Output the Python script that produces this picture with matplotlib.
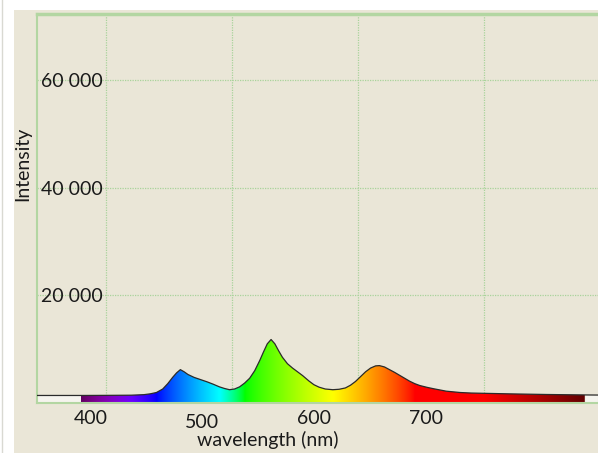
import matplotlib
matplotlib.use("Agg")
import matplotlib.pyplot as plt
import numpy as np
from matplotlib.patches import Polygon, Rectangle
from matplotlib.transforms import ScaledTranslation

plt.rcParams['font.family'] = ['Lato', 'DejaVu Sans']

# spectrum
wavelength = [345, 360, 380, 400, 420, 430, 435, 440, 445, 449, 453, 456, 459, 462,
              465, 470, 475, 480, 485, 490, 494, 498, 502, 506, 510, 514, 518, 522,
              525, 528, 531, 534, 537, 540, 544, 548, 552, 556, 561, 565, 569, 574,
              580, 585, 590, 594, 598, 602, 606, 610, 614, 617, 621, 625, 629, 633,
              637, 641, 645, 649, 655, 660, 670, 681, 690, 700, 720, 750, 780, 790]
intensity = [1400, 1400, 1400, 1420, 1450, 1550, 1700, 1950, 2600, 3600, 4800, 5600,
             6200, 5800, 5300, 4750, 4350, 3950, 3500, 3000, 2700, 2470, 2600, 3000,
             3700, 4600, 6000, 7900, 9500, 11000, 11800, 11000, 9700, 8500, 7300, 6500,
             5800, 5100, 4100, 3400, 2950, 2600, 2470, 2550, 2800, 3300, 4000, 4900,
             5800, 6500, 6900, 6950, 6700, 6200, 5700, 5150, 4600, 4050, 3600, 3250,
             2900, 2650, 2200, 1950, 1850, 1800, 1700, 1580, 1500, 1480]
x_ticks = [400, 500, 600, 700]
y_ticks = [20000, 40000, 60000]
y_tick_labels = ["20 000", "40 000", "60 000"]
visible_range = (380, 780)

BEIGE = "#eae6d7"
GREEN = "#b3d6a2"
GRID = "#a9d39b"
TEXT = "#1a1a1a"


def wavelength_to_rgb(w, gamma=0.8):
    # Dan Bruton's approximation
    if w < 440:
        r, g, b = -(w - 440) / 60.0, 0.0, 1.0
    elif w < 490:
        r, g, b = 0.0, (w - 440) / 50.0, 1.0
    elif w < 510:
        r, g, b = 0.0, 1.0, -(w - 510) / 20.0
    elif w < 580:
        r, g, b = (w - 510) / 70.0, 1.0, 0.0
    elif w < 645:
        r, g, b = 1.0, -(w - 645) / 65.0, 0.0
    else:
        r, g, b = 1.0, 0.0, 0.0
    if w < 420:
        f = 0.3 + 0.7 * (w - 380) / 40.0
    elif w > 700:
        f = 0.3 + 0.7 * (780 - w) / 80.0
    else:
        f = 1.0
    return [(c * f) ** gamma if c > 0 else 0.0 for c in (r, g, b)]


wl = np.array(wavelength, dtype=float)
it = np.array(intensity, dtype=float)

fig = plt.figure(figsize=(5.98, 4.53), dpi=100, facecolor="white")
fig.patches.append(Rectangle((14 / 598, 0), 1, 1 - 10 / 453, transform=fig.transFigure,
                             facecolor=BEIGE, edgecolor="none", zorder=-10))
fig.lines.append(plt.Line2D([1.5 / 598, 1.5 / 598], [0, 1], transform=fig.transFigure,
                            color="#d9d9d2", lw=1, zorder=-10))

ax = fig.add_axes([37 / 598, 1 - 403 / 453, 1 - 37 / 598, (403 - 14) / 453])
ax.set_facecolor(BEIGE)
ax.set_xlim(345.2, 790.5)
ax.set_ylim(0, 72300)

# coloured fill under the curve, clipped to the spectrum shape
lo, hi = visible_range
grad_w = np.linspace(lo, hi, 800)
grad = np.array([[wavelength_to_rgb(w) for w in grad_w]])
im = ax.imshow(grad, extent=[lo, hi, 0, 72300], aspect="auto", zorder=2,
               interpolation="bilinear")
inside = (wl >= lo) & (wl <= hi)
poly_pts = list(zip(wl[inside], it[inside])) + [(hi, 0), (lo, 0)]
clip = Polygon(poly_pts, closed=True, facecolor="none", edgecolor="none",
               transform=ax.transData)
ax.add_patch(clip)
im.set_clip_path(clip)

ax.fill_between(wl, 0, it, where=wl <= lo, color="#f5f4ee", zorder=1.5, lw=0)
ax.fill_between(wl, 0, it, where=wl >= hi, color="#f5f4ee", zorder=1.5, lw=0)
ax.plot(wl, it, color="#2a2a2a", lw=0.9, zorder=3)

# grid and spines
ax.set_xticks(x_ticks)
ax.set_yticks(y_ticks)
ax.grid(True, color=GRID, lw=0.9, linestyle=(0, (1, 1)), zorder=1)
ax.set_axisbelow(True)
ax.tick_params(axis="x", length=0, labelbottom=False)
ax.set_yticklabels(y_tick_labels)
ax.tick_params(axis="y", length=0, pad=-3, labelsize=14, labelcolor=TEXT)
for lab in ax.get_yticklabels():
    lab.set_horizontalalignment("left")
for side in ("left", "bottom"):
    ax.spines[side].set_color(GREEN)
    ax.spines[side].set_linewidth(1.5)
ax.spines["top"].set_color(GREEN)
ax.spines["top"].set_linewidth(2.5)
ax.spines["right"].set_visible(False)

# tick labels sit on a slightly different scale than the grid
sec = ax.secondary_xaxis("bottom", functions=(lambda w: 400 + (w - 387.7) / 0.887,
                                              lambda v: 387.7 + (v - 400) * 0.887))
sec.set_xticks(x_ticks)
sec.tick_params(length=0, pad=5, labelsize=14, labelcolor=TEXT)
sec.spines["bottom"].set_visible(False)
lab500 = sec.xaxis.get_major_ticks()[1].label1
lab500.set_transform(lab500.get_transform() +
                     ScaledTranslation(0, -4 / 100, fig.dpi_scale_trans))

fig.text(23 / 598, 1 - 164 / 453, "Intensity", rotation=90, ha="center", va="center",
         fontsize=14, color=TEXT)
fig.text(267.5 / 598, 1 - 440 / 453, "wavelength (nm)", ha="center", va="center",
         fontsize=14, color=TEXT)

fig.savefig("out.png", dpi=100, facecolor=fig.get_facecolor())
